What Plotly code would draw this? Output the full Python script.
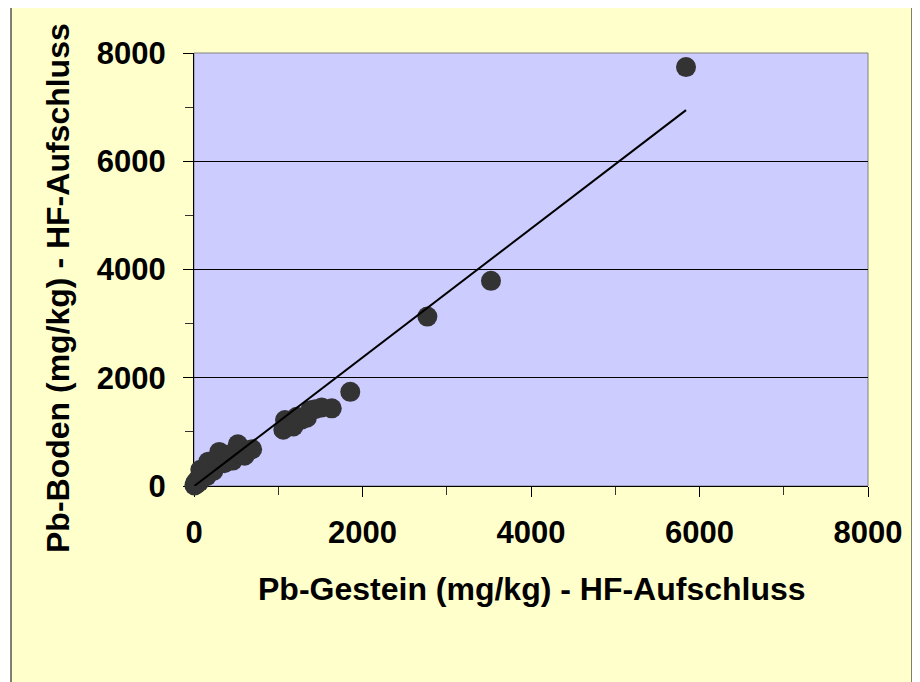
import plotly.graph_objects as go

# Data (mg/kg)
X_GESTEIN = [5, 15, 25, 40, 60, 75, 90, 110, 130, 150, 170, 190, 210, 230, 250,
             280, 300, 330, 360, 390, 420, 430, 460, 490, 520, 540, 560, 600, 640, 690,
             1060, 1080, 1130, 1180, 1220, 1280, 1340, 1380, 1440, 1515, 1635, 1855,
             2770, 3525, 5840]
Y_BODEN = [10, 60, 30, 110, 70, 300, 160, 200, 250, 180, 450, 330, 400, 280, 360,
           520, 630, 480, 420, 560, 500, 580, 470, 620, 770, 600, 700, 560, 650, 680,
           1040, 1220, 1150, 1100, 1280, 1230, 1260, 1400, 1420, 1450, 1435, 1740,
           3130, 3790, 7740]

# Linear trendline coefficients
TREND_SLOPE = 1.19
TREND_INTERCEPT = -5

X_TICKS = [0, 2000, 4000, 6000, 8000]
Y_TICKS = [0, 2000, 4000, 6000, 8000]

X_TITLE = "Pb-Gestein (mg/kg) - HF-Aufschluss"
Y_TITLE = "Pb-Boden (mg/kg) - HF-Aufschluss"

FONT = "Liberation Sans, Arial, sans-serif"

# page has an 8px body margin: the figure is placed at (8, 8)
OFF = 8
PAGE_W, PAGE_H = 920, 682
W, H = PAGE_W - OFF, PAGE_H - OFF
# plot area in page pixels: x 194..868, y 53..486
PL, PR, PT, PB = 194, 868, 53, 486
ML, MT = PL - OFF, PT - OFF
MR = PAGE_W - PR
MB = PAGE_H - PB
PW = PR - PL
PH = PB - PT


def px_to_paper_x(px):
    return (px - PL) / PW


def py_to_paper_y(py):
    return (PB - py) / PH


trend_x = [min(X_GESTEIN), max(X_GESTEIN)]
trend_y = [TREND_SLOPE * v + TREND_INTERCEPT for v in trend_x]

fig = go.Figure()
fig.add_trace(go.Scatter(
    x=X_GESTEIN, y=Y_BODEN, mode="markers",
    marker=dict(size=20, color="#333333", line=dict(width=0)),
    cliponaxis=False, showlegend=False, hoverinfo="skip",
))
fig.add_trace(go.Scatter(
    x=trend_x, y=trend_y, mode="lines",
    line=dict(color="black", width=2),
    cliponaxis=False, showlegend=False, hoverinfo="skip",
))

axis_common = dict(
    showline=True, linecolor="black", linewidth=1,
    ticks="outside", ticklen=10, tickwidth=1, tickcolor="black",
    tickfont=dict(family=FONT, size=31, color="black", weight="bold"),
    zeroline=False, layer="below traces",
    minor=dict(ticks="outside", ticklen=8, tickwidth=1, tickcolor="#333333", dtick=1000, showgrid=False),
)

fig.update_xaxes(range=[0, 8000], tickvals=X_TICKS, ticktext=[str(v) for v in X_TICKS],
                 showgrid=False, ticklabelstandoff=9, **axis_common)
fig.update_yaxes(range=[0, 8000], tickvals=Y_TICKS, ticktext=[str(v) for v in Y_TICKS],
                 showgrid=True, gridcolor="black", gridwidth=1, ticklabelstandoff=11, **axis_common)

shapes = [
    # chart area (yellow with black border)
    dict(type="rect", xref="paper", yref="paper", layer="below",
         x0=px_to_paper_x(11), x1=px_to_paper_x(912), y0=py_to_paper_y(700), y1=py_to_paper_y(7),
         fillcolor="#FFFFCC", line=dict(color="black", width=1)),
    # plot area (lavender with gray border)
    dict(type="rect", xref="paper", yref="paper", layer="below",
         x0=0, x1=1, y0=0, y1=1,
         fillcolor="#CCCCFF", line=dict(color="#808080", width=1)),
]

annotations = [
    dict(text=X_TITLE, xref="paper", yref="paper", x=px_to_paper_x(531.5), y=py_to_paper_y(589),
         xanchor="center", yanchor="middle", showarrow=False,
         font=dict(family=FONT, size=32, color="black", weight="bold")),
    dict(text=Y_TITLE, xref="paper", yref="paper", x=px_to_paper_x(57.5), y=py_to_paper_y(288.5),
         xanchor="center", yanchor="middle", showarrow=False, textangle=-90,
         font=dict(family=FONT, size=32, color="black", weight="bold")),
]

fig.update_layout(
    width=W, height=H,
    margin=dict(l=ML, r=MR, t=MT, b=MB, pad=0),
    paper_bgcolor="white", plot_bgcolor="rgba(0,0,0,0)",
    font=dict(family=FONT, color="black"),
    shapes=shapes, annotations=annotations,
    showlegend=False,
)

fig.write_html("out.html", config={"displayModeBar": False})
